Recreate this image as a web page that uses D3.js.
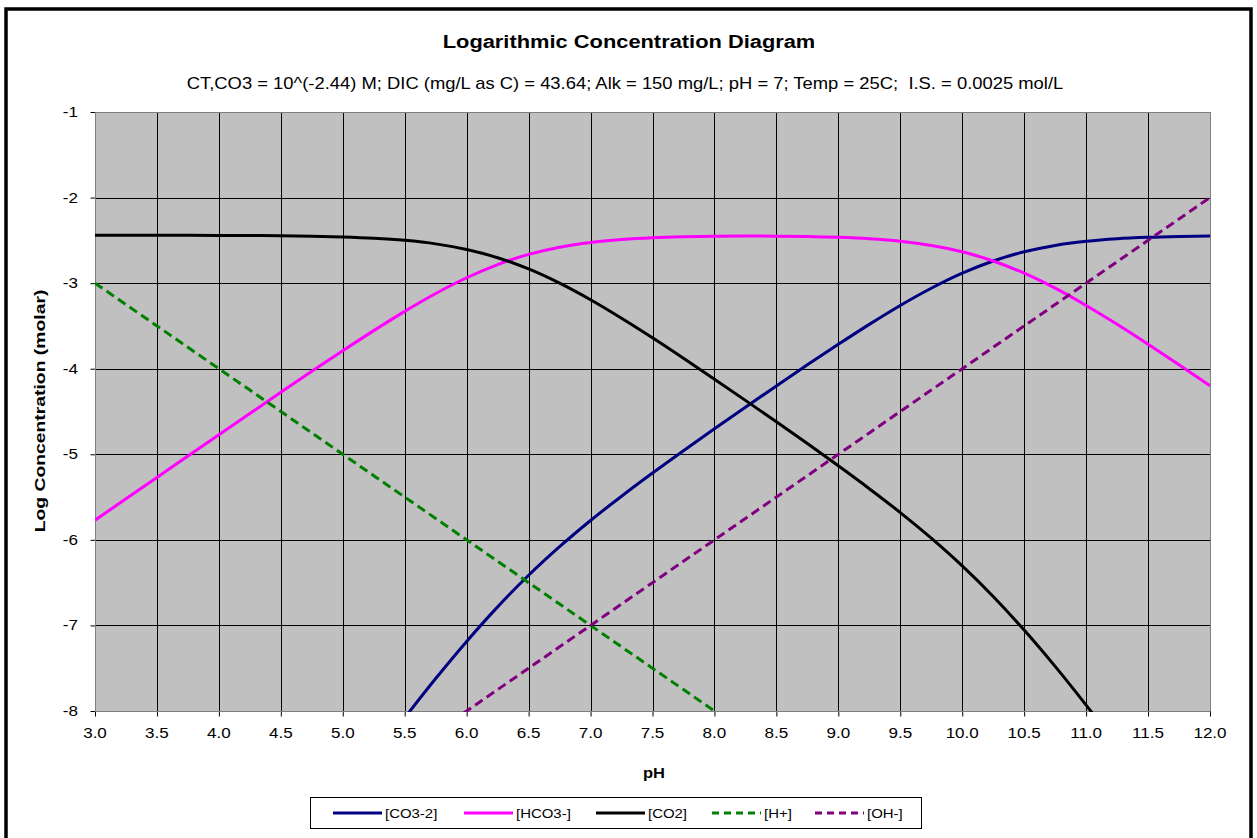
<!DOCTYPE html>
<html><head><meta charset="utf-8">
<script src="https://cdn.jsdelivr.net/npm/d3@7/dist/d3.min.js"></script>
<style>body{margin:0;background:#fff;}svg{display:block;font-family:"Liberation Sans",Arial,sans-serif;}text{white-space:pre;}</style>
</head><body>
<svg id="chart" width="1257" height="838"></svg>
<script>
const title = "Logarithmic Concentration Diagram";
const subtitle = "CT,CO3 = 10^(-2.44) M; DIC (mg/L as C) = 43.64; Alk = 150 mg/L; pH = 7; Temp = 25C;  I.S. = 0.0025 mol/L";
const xTicks = [3.0,3.5,4.0,4.5,5.0,5.5,6.0,6.5,7.0,7.5,8.0,8.5,9.0,9.5,10.0,10.5,11.0,11.5,12.0];
const yTicks = [-1,-2,-3,-4,-5,-6,-7,-8];
const seriesNames = ["[CO3-2]","[HCO3-]","[CO2]","[H+]","[OH-]"];
const seriesColors = ["#000080","#FF00FF","#000000","#008000","#800080"];
const pH = [3.0,3.25,3.5,3.75,4.0,4.25,4.5,4.75,5.0,5.25,5.5,5.75,6.0,6.25,6.5,6.75,7.0,7.25,7.5,7.75,8.0,8.25,8.5,8.75,9.0,9.25,9.5,9.75,10.0,10.25,10.5,10.75,11.0,11.25,11.5,11.75,12.0];
const co3 = [-13.02,-12.52,-12.02,-11.52,-11.02,-10.524,-10.026,-9.531,-9.040,-8.555,-8.080,-7.621,-7.187,-6.783,-6.414,-6.080,-5.774,-5.490,-5.219,-4.958,-4.702,-4.450,-4.201,-3.955,-3.715,-3.482,-3.261,-3.060,-2.884,-2.741,-2.634,-2.559,-2.511,-2.481,-2.464,-2.454,-2.448];
const hco3 = [-5.770,-5.520,-5.271,-5.021,-4.772,-4.524,-4.276,-4.031,-3.790,-3.555,-3.330,-3.121,-2.937,-2.783,-2.664,-2.580,-2.524,-2.490,-2.469,-2.458,-2.452,-2.450,-2.451,-2.455,-2.465,-2.482,-2.511,-2.560,-2.634,-2.741,-2.884,-3.059,-3.261,-3.481,-3.714,-3.954,-4.198];
const co2 = [-2.440,-2.440,-2.441,-2.441,-2.442,-2.444,-2.446,-2.451,-2.460,-2.475,-2.500,-2.541,-2.607,-2.703,-2.834,-3.000,-3.194,-3.410,-3.639,-3.878,-4.122,-4.370,-4.621,-4.875,-5.135,-5.402,-5.681,-5.980,-6.304,-6.661,-7.054,-7.479,-7.931,-8.401,-8.884,-9.374,-9.868];
const hPlus = [-3.0,-3.25,-3.5,-3.75,-4.0,-4.25,-4.5,-4.75,-5.0,-5.25,-5.5,-5.75,-6.0,-6.25,-6.5,-6.75,-7.0,-7.25,-7.5,-7.75,-8.0,-8.25,-8.5,-8.75,-9.0,-9.25,-9.5,-9.75,-10.0,-10.25,-10.5,-10.75,-11.0,-11.25,-11.5,-11.75,-12.0];
const ohMinus = [-11.0,-10.75,-10.5,-10.25,-10.0,-9.75,-9.5,-9.25,-9.0,-8.75,-8.5,-8.25,-8.0,-7.75,-7.5,-7.25,-7.0,-6.75,-6.5,-6.25,-6.0,-5.75,-5.5,-5.25,-5.0,-4.75,-4.5,-4.25,-4.0,-3.75,-3.5,-3.25,-3.0,-2.75,-2.5,-2.25,-2.0];

const svg = d3.select("#chart");
const L = 95, R = 1210, T = 112, B = 711;
const x = d3.scaleLinear().domain([3,12]).range([L,R]);
const y = d3.scaleLinear().domain([-8,-1]).range([B,T]);

function stext(px, py, str, size, sx, anchor, bold, rot){
  return svg.append("text")
    .attr("transform",`translate(${px},${py})${rot?" rotate(-90)":""} scale(${sx},1)`)
    .attr("text-anchor",anchor).attr("font-size",size)
    .attr("font-weight",bold?"bold":"normal").attr("fill","#000").text(str);
}

// outer frame
svg.append("rect").attr("x",6).attr("y",9).attr("width",1245).attr("height",840)
  .attr("fill","#fff").attr("stroke","#000").attr("stroke-width",3.5);

// titles
stext(629,48,title,19,1.15,"middle",true);
stext(625,89,subtitle,16,1.15,"middle",false);

// plot background
svg.append("rect").attr("x",L).attr("y",T).attr("width",R-L).attr("height",B-T).attr("fill","#C0C0C0");

// grid
const g = svg.append("g");
g.selectAll(".vg").data(xTicks).join("line")
  .attr("x1",d=>Math.round(x(d))+0.5).attr("x2",d=>Math.round(x(d))+0.5)
  .attr("y1",T).attr("y2",B).attr("stroke","#000").attr("stroke-width",1);
g.selectAll(".hg").data(yTicks).join("line")
  .attr("y1",d=>Math.round(y(d))+0.5).attr("y2",d=>Math.round(y(d))+0.5)
  .attr("x1",L).attr("x2",R).attr("stroke","#000").attr("stroke-width",1);

// plot border
svg.append("rect").attr("x",L+0.5).attr("y",T+0.5).attr("width",R-L).attr("height",B-T)
  .attr("fill","none").attr("stroke","#808080").attr("stroke-width",1);

// axes (ticks from D3 axes, labels drawn stretched)
const xAxis = d3.axisBottom(x).tickValues(xTicks).tickFormat("").tickSize(5);
const yAxis = d3.axisLeft(y).tickValues(yTicks).tickFormat("").tickSize(5);
const gx = svg.append("g").attr("transform",`translate(0,${B+0.5})`).call(xAxis);
const gy = svg.append("g").attr("transform",`translate(${L+0.5},0)`).call(yAxis);
[gx,gy].forEach(a=>{ a.select(".domain").remove(); a.selectAll(".tick line").attr("stroke","#000"); });
const fmt = d3.format(".1f");
xTicks.forEach(v=>stext(x(v),738,fmt(v),15.5,1.1,"middle",false));
yTicks.forEach(v=>stext(78/1,y(v)+5,String(v),15.5,1.1,"end",false));
svg.append("line").attr("x1",L).attr("x2",R).attr("y1",B+0.5).attr("y2",B+0.5).attr("stroke","#808080");
svg.append("line").attr("x1",L+0.5).attr("x2",L+0.5).attr("y1",T).attr("y2",B).attr("stroke","#808080");

// axis titles
stext(654,778,"pH",15,1.1,"middle",true);
stext(45,411,"Log Concentration (molar)",15,1.29,"middle",true,true);

// clip
svg.append("clipPath").attr("id","clip").append("rect")
  .attr("x",L).attr("y",T-2).attr("width",R-L+2).attr("height",B-T+3);

const seriesData = [co3,hco3,co2,hPlus,ohMinus];
const dashed = [false,false,false,true,true];
const line = d3.line().x((d,i)=>x(pH[i])).y(d=>y(d)).curve(d3.curveMonotoneX);
const lg = svg.append("g").attr("clip-path","url(#clip)");
seriesData.forEach((vals,k)=>{
  lg.append("path").datum(vals).attr("d",line).attr("fill","none")
    .attr("stroke",seriesColors[k]).attr("stroke-width",3)
    .attr("stroke-dasharray",dashed[k]?"9,5":null);
});

// legend
svg.append("rect").attr("x",310.5).attr("y",797.5).attr("width",611).attr("height",31)
  .attr("fill","#fff").attr("stroke","#000").attr("stroke-width",1);
const legX = [333,464,596,712,815];
seriesNames.forEach((n,k)=>{
  svg.append("line").attr("x1",legX[k]).attr("x2",legX[k]+49).attr("y1",813).attr("y2",813)
    .attr("stroke",seriesColors[k]).attr("stroke-width",3).attr("stroke-dasharray",dashed[k]?"7,5":null);
  stext(legX[k]+52,818,n,13,1.15,"start",false);
});
</script>
</body></html>
